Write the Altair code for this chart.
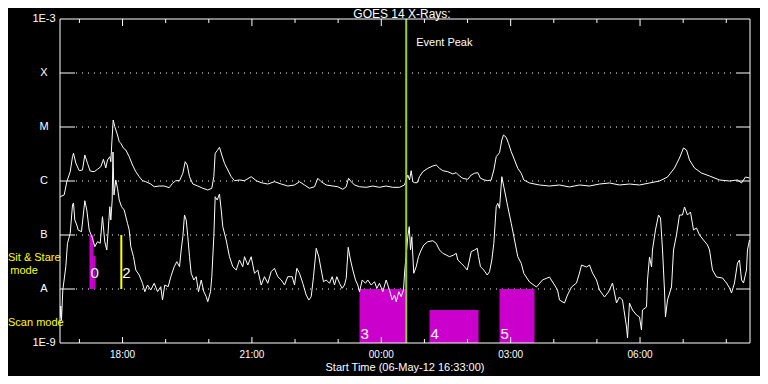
import altair as alt
import pandas as pd

# ---------------- data (minutes after 16:33 UT on 06-May-12, log10 flux W/m^2) ----------------
long_t = [0.3, 5.8, 9.5, 14.2, 17.4, 18.8, 22.0, 26.7, 31.3, 34.5,
          38.3, 42.0, 47.6, 52.2, 56.8, 60.5, 63.7, 66.1, 69.3, 70.7,
          72.1, 74.0, 76.2, 80.0, 82.4, 84.6, 88.4, 91.6, 96.3, 100.9,
          105.5, 110.2, 114.8, 119.4, 126.3, 131.1, 138.0, 145.0, 151.9, 156.5,
          161.1, 166.3, 170.9, 174.2, 177.0, 180.2, 184.8, 191.7, 198.7, 205.6,
          211.2, 214.0, 215.9, 218.7, 221.9, 225.1, 228.9, 233.5, 238.2, 242.8,
          249.7, 256.7, 266.0, 273.0, 279.9, 289.1, 298.4, 307.8, 316.9, 326.3,
          333.2, 340.2, 347.1, 354.1, 358.7, 363.4, 370.4, 379.6, 386.5, 393.5,
          398.2, 401.4, 405.2, 409.7, 416.7, 426.0, 435.2, 444.5, 453.8, 463.0,
          472.4, 479.3, 483.9, 486.3, 488.6, 490.9, 493.2, 497.0, 500.2, 504.8,
          511.7, 518.7, 523.4, 528.0, 532.6, 539.6, 546.5, 551.2, 555.8, 560.4,
          567.4, 572.1, 576.7, 581.3, 585.0, 590.6, 595.2, 599.9, 603.6, 606.9,
          611.5, 614.7, 617.0, 620.8, 624.0, 627.8, 632.4, 636.9, 641.7, 645.3,
          653.2, 667.1, 681.0, 695.0, 708.9, 722.8, 736.7, 750.6, 764.5, 778.4,
          792.3, 806.3, 820.2, 834.1, 845.2, 855.0, 861.9, 867.5, 871.7, 875.8,
          882.8, 892.5, 903.7, 917.6, 931.5, 942.6, 948.2, 953.7, 959.3]
long_log10 = [-6.291, -6.259, -6.013, -5.828, -5.550, -5.487, -5.667, -5.809, -5.796, -5.519,
              -5.672, -5.815, -5.828, -5.783, -5.735, -5.598, -5.759, -5.611, -5.550, -5.643,
              -5.296, -4.870, -4.994, -5.148, -5.272, -5.302, -5.394, -5.426, -5.550, -5.704,
              -5.828, -5.920, -5.994, -6.013, -6.056, -6.106, -6.093, -6.093, -6.124, -6.043,
              -5.994, -5.994, -5.857, -5.643, -5.704, -5.920, -6.056, -6.093, -6.135, -6.167,
              -6.135, -5.920, -5.487, -5.439, -5.376, -5.519, -5.672, -5.796, -5.920, -5.994,
              -5.981, -5.994, -5.920, -5.994, -6.031, -6.056, -6.013, -6.056, -6.093, -6.074,
              -6.013, -6.074, -6.135, -6.106, -5.950, -6.013, -6.074, -6.093, -6.106, -6.154,
              -6.106, -5.950, -6.013, -6.074, -6.106, -6.117, -6.093, -6.117, -6.093, -6.117,
              -6.117, -6.074, -5.889, -5.981, -5.809, -6.013, -6.031, -6.031, -5.920, -5.828,
              -5.765, -5.722, -5.704, -5.765, -5.809, -5.828, -5.870, -5.846, -5.907, -5.950,
              -5.969, -5.889, -5.857, -5.846, -5.950, -5.981, -5.994, -5.981, -5.796, -5.550,
              -5.476, -5.241, -5.148, -5.191, -5.302, -5.457, -5.611, -5.765, -5.857, -5.981,
              -6.037, -6.074, -6.093, -6.074, -6.111, -6.074, -6.093, -6.056, -6.037, -6.074,
              -6.056, -6.074, -6.037, -6.000, -5.926, -5.759, -5.574, -5.389, -5.426, -5.611,
              -5.759, -5.852, -5.907, -5.981, -6.000, -5.981, -6.037, -5.926, -5.944]

short_t = [0.0, 1.1, 2.1, 3.9, 8.1, 10.4, 14.2, 17.4, 18.8, 20.6,
           23.4, 25.3, 29.9, 34.5, 37.3, 40.6, 45.2, 48.4, 52.2, 55.9,
           59.1, 62.3, 65.1, 67.1, 69.3, 70.7, 72.6, 73.7, 75.1, 77.6,
           80.0, 82.4, 85.6, 89.3, 93.9, 96.3, 98.5, 102.3, 105.5, 110.2,
           114.8, 118.0, 121.7, 126.3, 131.1, 135.7, 140.2, 142.6, 145.8, 150.5,
           154.2, 158.9, 162.5, 166.3, 168.6, 170.9, 173.2, 175.6, 177.8, 180.2,
           182.5, 186.2, 189.5, 192.7, 196.5, 200.1, 203.4, 205.6, 209.4, 211.2,
           214.0, 215.9, 218.7, 221.9, 224.3, 226.5, 231.2, 235.8, 240.4, 245.2,
           249.7, 254.3, 256.7, 261.3, 266.0, 270.6, 275.2, 279.9, 284.5, 289.1,
           293.8, 298.4, 303.0, 307.8, 312.4, 316.9, 323.1, 326.3, 329.5, 333.2,
           337.8, 342.5, 346.2, 349.5, 352.7, 356.5, 360.1, 363.4, 366.6, 370.4,
           375.0, 378.7, 381.9, 385.1, 388.9, 392.6, 395.8, 398.2, 401.0, 404.2,
           407.4, 411.1, 414.3, 416.7, 420.5, 425.0, 428.2, 433.0, 437.6, 440.8,
           444.5, 449.1, 453.8, 458.4, 462.2, 465.4, 467.8, 471.4, 474.7, 477.9,
           479.7, 483.9, 485.9, 487.7, 489.5, 492.2, 495.6, 498.8, 502.5, 506.2,
           511.7, 518.7, 523.4, 528.0, 532.6, 537.3, 541.9, 547.9, 551.2, 553.5,
           558.2, 562.8, 566.5, 569.7, 572.1, 576.7, 580.5, 582.3, 585.0, 589.6,
           594.4, 597.6, 600.8, 603.6, 606.9, 609.1, 611.5, 614.7, 618.4, 623.0,
           627.8, 632.4, 636.9, 641.7, 645.3, 653.2, 663.0, 671.3, 681.0, 688.0,
           692.2, 695.0, 701.9, 706.1, 711.7, 718.6, 722.8, 725.6, 732.5, 736.7,
           740.9, 746.4, 750.6, 757.6, 763.1, 768.7, 774.3, 778.4, 782.6, 788.2,
           789.6, 792.3, 796.5, 802.1, 806.3, 809.0, 810.4, 816.0, 817.4, 820.2,
           823.0, 824.3, 828.5, 832.7, 835.5, 838.3, 841.0, 842.4, 845.2, 850.8,
           853.6, 857.7, 861.9, 866.1, 868.9, 873.0, 877.2, 881.4, 885.6, 889.7,
           895.3, 900.9, 903.7, 907.8, 913.4, 921.7, 927.3, 931.5, 934.3, 938.4,
           942.6, 945.4, 948.2, 951.0, 955.1, 956.5, 959.3]
short_log10 = [-8.537, -8.315, -8.574, -8.019, -7.587, -7.154, -6.969, -6.444, -6.407, -6.722,
               -6.815, -6.907, -6.939, -6.365, -6.537, -6.907, -7.061, -7.217, -7.124, -7.154,
               -6.661, -7.124, -7.278, -6.907, -6.476, -6.722, -6.352, -5.463, -6.259, -5.981,
               -6.135, -6.352, -6.476, -6.537, -6.783, -6.907, -7.217, -7.402, -7.648, -7.741,
               -7.894, -8.050, -7.926, -8.019, -7.894, -8.050, -7.957, -8.204, -7.926, -7.957,
               -7.772, -7.587, -7.494, -7.587, -7.278, -7.031, -6.630, -6.722, -7.031, -7.402,
               -7.709, -7.833, -7.772, -8.050, -7.833, -8.050, -8.143, -8.235, -8.050, -7.772,
               -7.031, -6.291, -6.352, -6.241, -6.537, -6.846, -7.093, -7.402, -7.587, -7.648,
               -7.463, -7.587, -7.402, -7.556, -7.402, -7.709, -7.648, -7.926, -7.772, -7.894,
               -7.680, -7.617, -7.772, -7.833, -7.926, -7.772, -7.772, -7.926, -7.617, -7.709,
               -7.894, -8.111, -8.204, -8.143, -7.772, -7.246, -7.402, -7.648, -7.865, -7.833,
               -7.894, -7.772, -7.926, -7.772, -7.894, -7.987, -7.926, -7.802, -7.228, -7.463,
               -7.648, -7.833, -7.926, -8.050, -7.833, -7.894, -7.833, -7.926, -7.865, -7.987,
               -7.894, -8.050, -7.833, -8.019, -8.204, -8.111, -8.235, -8.050, -8.143, -8.019,
               -7.648, -7.031, -6.846, -7.278, -7.031, -7.709, -7.587, -7.402, -7.278, -7.185,
               -7.124, -7.106, -7.154, -7.278, -7.339, -7.370, -7.402, -7.370, -7.339, -7.463,
               -7.524, -7.587, -7.648, -7.463, -7.309, -7.278, -7.246, -7.402, -7.587, -7.648,
               -7.741, -7.680, -7.463, -7.154, -6.476, -6.413, -6.506, -5.920, -6.167, -6.476,
               -6.783, -7.093, -7.402, -7.524, -7.709, -7.870, -7.963, -7.833, -7.778, -7.926,
               -8.019, -8.204, -8.259, -8.111, -7.963, -7.889, -7.704, -7.556, -7.593, -7.556,
               -7.704, -7.833, -8.019, -8.148, -8.056, -7.889, -8.259, -8.148, -8.204, -8.704,
               -8.907, -8.259, -8.389, -8.481, -8.519, -8.759, -8.389, -8.333, -7.833, -7.407,
               -7.593, -7.278, -6.907, -6.630, -6.685, -7.278, -8.019, -8.519, -8.204, -7.963,
               -7.278, -7.000, -6.630, -6.630, -6.481, -6.630, -6.574, -6.907, -6.870, -7.000,
               -7.093, -7.185, -7.278, -7.648, -7.778, -7.796, -7.889, -7.981, -8.074, -7.889,
               -7.519, -7.463, -7.833, -7.889, -7.648, -7.278, -7.093]

assert len(long_t) == len(long_log10)
assert len(short_t) == len(short_log10)

# observation windows (minutes after start, flux bounds)
obs_start = [41.0, 46.6, 416.7, 514.1, 611.5]
obs_end = [46.6, 49.4, 480.7, 582.3, 660.2]
obs_low = [1e-8, 1e-8, 1e-9, 1e-9, 1e-9]
obs_high = [1e-7, 4.1e-8, 1e-8, 4.1e-9, 1e-8]

stare_line_t = [85.3]
stare_line_low = [1e-8]
stare_line_high = [1e-7]

num_labels_upper = ["0", "2"]
num_upper_t = [41.0, 85.3]
num_upper_base = [1e-8, 1e-8]
num_labels_lower = ["3", "4", "5"]
num_lower_t = [416.7, 514.1, 611.5]
num_lower_base = [1e-9, 1e-9, 1e-9]

peak_t = [481.7]

major_ticks = [87, 267, 447, 627, 807]
major_labels = ["18:00", "21:00", "00:00", "03:00", "06:00"]
minor_ticks = [27, 147, 207, 327, 387, 507, 567, 687, 747, 867, 927]
decades = [1e-9, 1e-8, 1e-7, 1e-6, 1e-5, 1e-4, 1e-3]
decade_labels = ["1E-9", "A", "B", "C", "M", "X", "1E-3"]
class_levels = [1e-8, 1e-7, 1e-6, 1e-5, 1e-4]

# ---------------- chart ----------------
W, H = 690, 324
FONT = "Liberation Sans"

curves = pd.concat([
    pd.DataFrame({"t": long_t, "flux": [10 ** v for v in long_log10], "ch": "long"}),
    pd.DataFrame({"t": short_t, "flux": [10 ** v for v in short_log10], "ch": "short"}),
])
obs = pd.DataFrame({"start": obs_start, "end": obs_end, "low": obs_low, "high": obs_high})
stare = pd.DataFrame({"t": stare_line_t, "low": stare_line_low, "high": stare_line_high})
nup = pd.DataFrame({"t": num_upper_t, "base": num_upper_base, "lab": num_labels_upper})
nlo = pd.DataFrame({"t": num_lower_t, "base": num_lower_base, "lab": num_labels_lower})
peak = pd.DataFrame({"t": peak_t})
majdf = pd.DataFrame({"t": major_ticks, "lab": major_labels})
mindf = pd.DataFrame({"t": minor_ticks})
ydec = pd.DataFrame({"v": decades, "lab": decade_labels})
ytk = pd.DataFrame({"v": class_levels})
one = pd.DataFrame({"a": [0]})

xs = alt.Scale(domain=[0, 960], nice=False, zero=False)
ys = alt.Scale(type="log", domain=[1e-9, 1e-3], nice=False)

def X(field):
    return alt.X(field, type="quantitative", scale=xs, axis=None)

def Y(field):
    return alt.Y(field, type="quantitative", scale=ys, axis=None)

grid = alt.Chart(ytk).mark_rule(color="white", strokeWidth=1, strokeDash=[1, 5]).encode(
    y=Y("v"), x=alt.value(16), x2=alt.value(W - 14))

bars = alt.Chart(obs).mark_rect(color="#cc00cc").encode(
    x=X("start"), x2="end", y=Y("low"), y2="high")

stare_rule = alt.Chart(stare).mark_rule(color="#ffff00", strokeWidth=2).encode(
    x=X("t"), y=Y("low"), y2="high")

lines = alt.Chart(curves).mark_line(color="white", strokeWidth=1, clip=True).encode(
    x=X("t"), y=Y("flux"), detail="ch:N")

num_up = alt.Chart(nup).mark_text(color="white", font=FONT, fontSize=15, align="left",
                                   baseline="alphabetic", dx=1, dy=-11).encode(
    x=X("t"), y=Y("base"), text="lab:N")
num_lo = alt.Chart(nlo).mark_text(color="white", font=FONT, fontSize=15, align="left",
                                   baseline="alphabetic", dx=1, dy=-4).encode(
    x=X("t"), y=Y("base"), text="lab:N")

peak_rule = alt.Chart(peak).mark_rule(color="#9acd32", strokeWidth=2).encode(
    x=X("t"), y=alt.value(0), y2=alt.value(H))
peak_text = alt.Chart(peak).mark_text(text="Event Peak", color="white", font=FONT, fontSize=11,
                                       align="left", baseline="middle", dx=10).encode(
    x=X("t"), y=alt.value(24))

ytick_l = alt.Chart(ytk).mark_rule(color="white", strokeWidth=1).encode(
    y=Y("v"), x=alt.value(0), x2=alt.value(15))
ytick_r = alt.Chart(ytk).mark_rule(color="white", strokeWidth=1).encode(
    y=Y("v"), x=alt.value(W - 14), x2=alt.value(W))
ylabels = alt.Chart(ydec).mark_text(color="white", font=FONT, fontSize=11,
                                    align="center", baseline="middle").encode(
    y=Y("v"), x=alt.value(-16), text="lab:N")

xmaj_b = alt.Chart(majdf).mark_rule(color="white").encode(
    x=X("t"), y=alt.value(H - 6), y2=alt.value(H))
xmaj_t = alt.Chart(majdf).mark_rule(color="white").encode(
    x=X("t"), y=alt.value(0), y2=alt.value(7))
xmin_b = alt.Chart(mindf).mark_rule(color="white").encode(
    x=X("t"), y=alt.value(H - 4), y2=alt.value(H))
xmin_t = alt.Chart(mindf).mark_rule(color="white").encode(
    x=X("t"), y=alt.value(0), y2=alt.value(4))
xlabels = alt.Chart(majdf).mark_text(color="white", font=FONT, fontSize=10,
                                     align="center", baseline="middle").encode(
    x=X("t"), y=alt.value(H + 12), text="lab:N")

box = alt.Chart(one).mark_rect(fill=None, stroke="white", strokeWidth=1).encode(
    x=alt.value(0), x2=alt.value(W), y=alt.value(0), y2=alt.value(H))

def label(txt, x, y, color="white", size=11, align="center"):
    return alt.Chart(one).mark_text(text=txt, color=color, font=FONT, fontSize=size,
                                    align=align, baseline="middle").encode(
        x=alt.value(x), y=alt.value(y))

title_t = label("GOES 14 X-Rays:", 342, -5, size=12)
xtitle = label("Start Time (06-May-12 16:33:00)", 345, 349, size=11)
sit1 = label("Sit & Stare", -52, 239, color="#ffff00", size=11, align="left")
sit2 = label("mode", -36, 252, color="#ffff00", size=11)
scan = label("Scan mode", -52, 304, color="#ffff00", size=11, align="left")

chart = alt.layer(
    grid, bars, stare_rule, lines, peak_rule, peak_text, num_up, num_lo,
    ytick_l, ytick_r, ylabels, xmaj_b, xmaj_t, xmin_b, xmin_t, xlabels, box,
    title_t, xtitle, sit1, sit2, scan,
).properties(
    width=W, height=H,
    autosize=alt.AutoSizeParams(type="none"),
    padding={"left": 52, "top": 11, "right": 10, "bottom": 33},
    background="black",
).configure_view(strokeWidth=0)

chart.save("out.html", embed_options={"renderer": "svg", "actions": False})
